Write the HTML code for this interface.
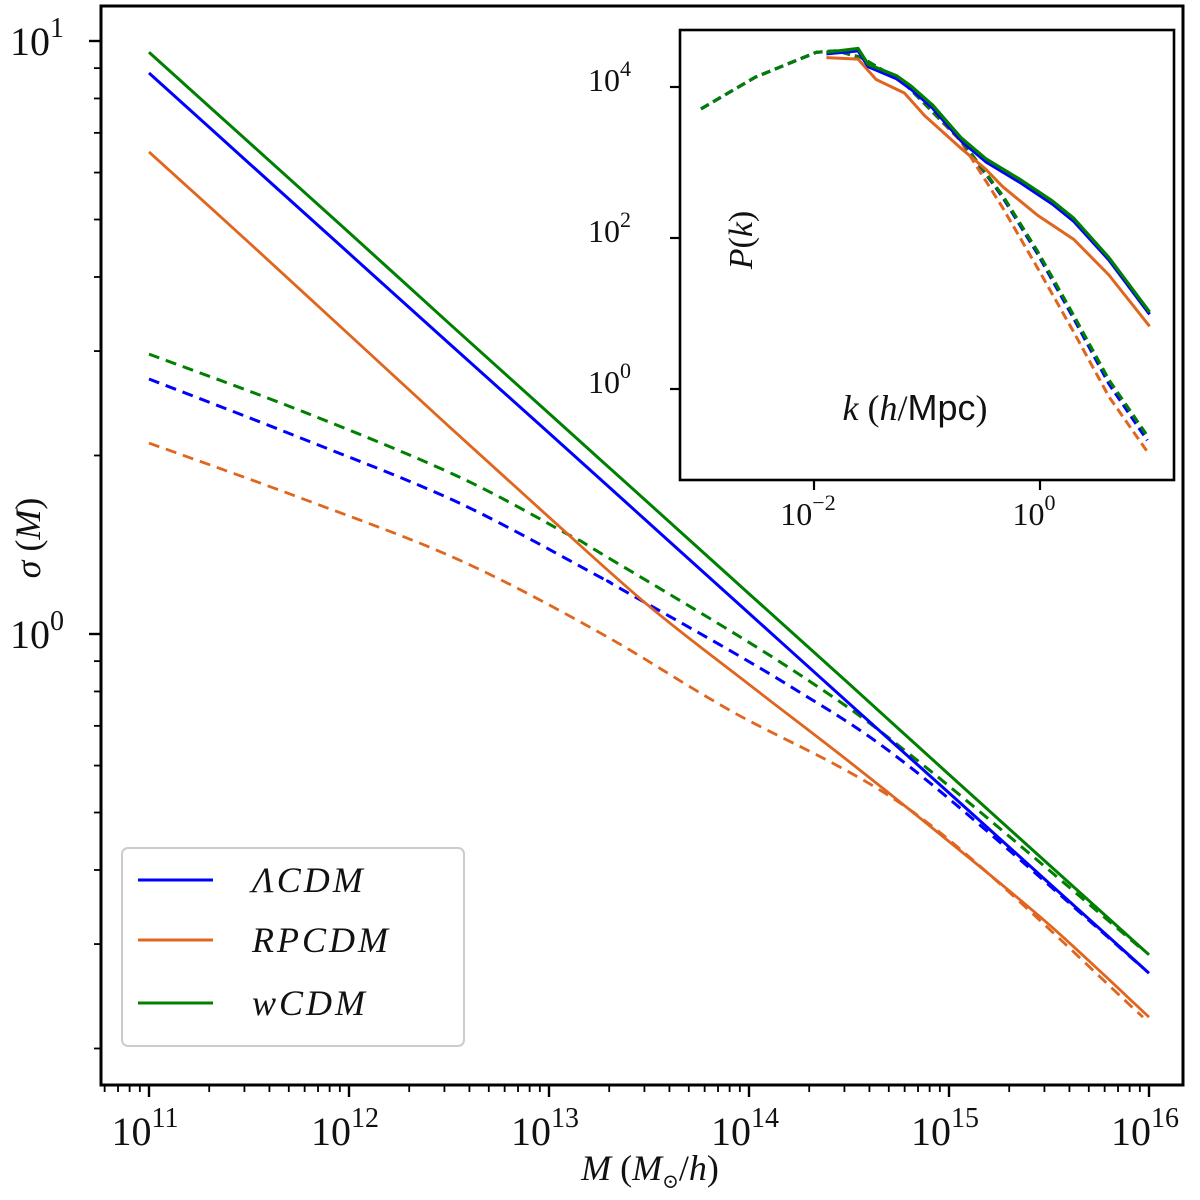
<!DOCTYPE html>
<html><head><meta charset="utf-8">
<style>
html,body{margin:0;padding:0;background:#fff;}
svg{display:block;}
text{font-family:"Liberation Serif","DejaVu Serif",serif;fill:#111;}
</style></head>
<body>
<svg id="chart" width="1200" height="1200" viewBox="0 0 1200 1200">
<g id="main"></g>
<g id="legend"></g>
<g id="inset"></g>
</svg>
<script>
// ===== main plot data (log10 M, log10 sigma) =====
const mGrid = [11, 11.5, 12, 12.5, 13, 13.5, 14, 14.5, 15, 15.5, 16];
const lcdmSolid = [0.946, 0.794, 0.642, 0.490, 0.339, 0.187, 0.035, -0.117, -0.268, -0.42, -0.572];
const wcdmSolid = [0.981, 0.829, 0.677, 0.524, 0.372, 0.220, 0.068, -0.084, -0.237, -0.389, -0.541];
const rpcdmSolid = [0.813, 0.66, 0.505, 0.35, 0.197, 0.047, -0.085, -0.215, -0.35, -0.49, -0.646];
const lcdmDashX = [11, 11.785, 12.55, 13.255, 13.36, 14.21, 14.86, 15.97];
const lcdmDash = [0.430, 0.327, 0.221, 0.096, 0.076, -0.089, -0.239, -0.563];
const wcdmDashX = [11, 11.785, 12.55, 13.1, 13.255, 14.21, 14.86, 15.97];
const wcdmDash = [0.472, 0.373, 0.265, 0.167, 0.137, -0.059, -0.218, -0.533];
const rpcdmDashX = [11, 11.785, 12.55, 13.255, 13.89, 14.86, 15.97];
const rpcdmDash = [0.322, 0.226, 0.125, 0.002, -0.126, -0.31, -0.646];
const xTickExp = ["11", "12", "13", "14", "15", "16"];
const yTickExp = ["1", "0"];

// ===== inset data (log10 k, log10 P) =====
const kDashBG = [-3, -2.52, -1.98, -1.8, -1.58, -1.2, -0.7, -0.33, -0.02, 0.3, 0.61, 0.95];
const lcdmPkLin = [3.71, 4.13, 4.46, 4.48, 4.39, 4.05, 3.3, 2.54, 1.79, 0.93, 0.07, -0.68];
const wcdmPkLin = [3.71, 4.13, 4.46, 4.48, 4.39, 4.05, 3.3, 2.56, 1.82, 0.97, 0.12, -0.62];
const kDashO = [-3, -2.52, -1.98, -1.8, -1.58, -1.2, -0.7, -0.33, -0.02, 0.3, 0.61, 0.95];
const rpcdmPkLin = [3.71, 4.13, 4.46, 4.48, 4.39, 4.05, 3.28, 2.4, 1.6, 0.75, -0.1, -0.83];
const kSolidG = [-1.89, -1.61, -1.52, -1.27, -1.14, -0.95, -0.7, -0.48, -0.17, 0.11, 0.3, 0.61, 0.97];
const wcdmPk = [4.46, 4.51, 4.30, 4.15, 4.01, 3.76, 3.33, 3.05, 2.77, 2.49, 2.26, 1.74, 1.02];
const lcdmPk = [4.44, 4.48, 4.27, 4.11, 3.97, 3.72, 3.29, 3.01, 2.73, 2.45, 2.22, 1.71, 0.99];
const kSolidO = [-1.89, -1.61, -1.45, -1.2, -1.02, -0.7, -0.48, -0.33, -0.02, 0.3, 0.61, 0.97];
const rpcdmPk = [4.39, 4.37, 4.1, 3.92, 3.62, 3.19, 2.91, 2.68, 2.30, 1.98, 1.51, 0.83];
const insetXTickExp = ["-2", "0"];
const insetYTickExp = ["4", "2", "0"];

const NS = "http://www.w3.org/2000/svg";
const BLUE = "#0000ff", ORANGE = "#e0661f", GREEN = "#008000";
function mk(tag, attrs, parent) { const e = document.createElementNS(NS, tag); for (const k in attrs) e.setAttribute(k, attrs[k]); parent.appendChild(e); return e; }

// main axes
const L = 101, T = 6, R = 1183, B = 1085;
const xs = v => 149 + 200 * (v - 11);
const ys = v => 634 - 593 * v;
const main = document.getElementById('main');

function smoothPath(pts) {
  let d = 'M' + pts[0][0].toFixed(1) + ' ' + pts[0][1].toFixed(1);
  for (let i = 0; i < pts.length - 1; i++) {
    const p0 = pts[Math.max(0, i - 1)], p1 = pts[i], p2 = pts[i + 1], p3 = pts[Math.min(pts.length - 1, i + 2)];
    const c1x = p1[0] + (p2[0] - p0[0]) / 6, c1y = p1[1] + (p2[1] - p0[1]) / 6;
    const c2x = p2[0] - (p3[0] - p1[0]) / 6, c2y = p2[1] - (p3[1] - p1[1]) / 6;
    d += ' C' + c1x.toFixed(1) + ' ' + c1y.toFixed(1) + ' ' + c2x.toFixed(1) + ' ' + c2y.toFixed(1) + ' ' + p2[0].toFixed(1) + ' ' + p2[1].toFixed(1);
  }
  return d;
}
function drawLine(g, xa, ya, fx, fy, color, dashed, name, w, smooth) {
  const pts = xa.map((x, i) => [fx(x), fy(ya[i])]);
  const d = smooth ? smoothPath(pts) : pts.map((p, i) => (i ? 'L' : 'M') + p[0].toFixed(1) + ' ' + p[1].toFixed(1)).join(' ');
  const p = mk('path', { d: d, fill: 'none', stroke: color, 'stroke-width': w, 'stroke-linejoin': 'round' }, g);
  if (dashed) p.setAttribute('stroke-dasharray', dashed);
  
  
}
drawLine(main, rpcdmDashX, rpcdmDash, xs, ys, ORANGE, '11 7', 'rpcdm-linear-line', 2.8, true);
drawLine(main, lcdmDashX, lcdmDash, xs, ys, BLUE, '11 7', 'lcdm-linear-line', 3, true);
drawLine(main, wcdmDashX, wcdmDash, xs, ys, GREEN, '11 7', 'wcdm-linear-line', 3, true);
drawLine(main, mGrid, rpcdmSolid, xs, ys, ORANGE, null, 'rpcdm-line', 2.8, true);
drawLine(main, mGrid, lcdmSolid, xs, ys, BLUE, null, 'lcdm-line', 3, true);
drawLine(main, mGrid, wcdmSolid, xs, ys, GREEN, null, 'wcdm-line', 3, true);

const frame = mk('rect', { x: L, y: T, width: R - L, height: B - T, fill: 'none', stroke: '#000', 'stroke-width': 3 }, main);
 

// x ticks
for (let e = 10; e <= 16; e++) {
  for (let m = 1; m <= 9; m++) {
    const v = e + Math.log10(m); const x = xs(v);
    if (x < L || x > R) continue;
    const len = m === 1 ? 12 : 7;
    const t = mk('line', { x1: x, y1: B, x2: x, y2: B + len, stroke: '#000', 'stroke-width': m === 1 ? 2.4 : 1.8 }, main);
     
  }
}
xTickExp.forEach(ex => {
  const x = xs(parseFloat(ex));
  const t = mk('text', { x: x - 4, y: 1145, 'font-size': 40, 'text-anchor': 'middle' }, main);
   
  t.textContent = '10';
  const s = mk('tspan', { dy: -18, 'font-size': 28 }, t); s.textContent = ex;
});
// y ticks
for (let e = -1; e <= 1; e++) {
  for (let m = 1; m <= 9; m++) {
    const v = e + Math.log10(m); const y = ys(v);
    if (y < T || y > B) continue;
    const len = m === 1 ? 12 : 7;
    const t = mk('line', { x1: L, y1: y, x2: L - len, y2: y, stroke: '#000', 'stroke-width': m === 1 ? 2.4 : 1.8 }, main);
     
  }
}
yTickExp.forEach(ex => {
  const y = ys(parseFloat(ex));
  const t = mk('text', { x: 10, y: y + 14, 'font-size': 40 }, main);
   
  t.textContent = '10';
  const s = mk('tspan', { dy: -18, 'font-size': 28 }, t); s.textContent = ex;
});
const xt = mk('text', { x: 650, y: 1180, 'font-size': 36, 'text-anchor': 'middle' }, main);
 
xt.innerHTML = '<tspan font-style="italic">M</tspan> (<tspan font-style="italic">M</tspan><tspan font-size="20" dy="8">⊙</tspan><tspan dy="-8">/</tspan><tspan font-style="italic">h</tspan>)';
const yt = mk('text', { x: 0, y: 0, 'font-size': 36, 'text-anchor': 'middle', transform: 'translate(40,538) rotate(-90)' }, main);
 
yt.innerHTML = '<tspan font-style="italic">σ</tspan> (<tspan font-style="italic">M</tspan>)';

// legend
const lg = document.getElementById('legend');
mk('rect', { x: 122, y: 848, width: 342, height: 198, rx: 6, fill: '#fff', 'fill-opacity': 0.85, stroke: '#ccc', 'stroke-width': 2 }, lg);
[['ΛCDM', BLUE, 880, 'legend-lcdm'], ['RPCDM', ORANGE, 940, 'legend-rpcdm'], ['wCDM', GREEN, 1003, 'legend-wcdm']].forEach(en => {
  const g = mk('g', {}, lg);
   
  mk('line', { x1: 138, y1: en[2], x2: 213, y2: en[2], stroke: en[1], 'stroke-width': 3 }, g);
  const t = mk('text', { x: 252, y: en[2] + 12, 'font-size': 36, 'font-style': 'italic', 'letter-spacing': 3 }, g);
  t.textContent = en[0];
});

// inset
const IL = 680, IT = 30, IR = 1174, IB = 480;
const ixs = v => 1040 + 113 * v;
const iys = v => 389 - 75.5 * v;
const ins = document.getElementById('inset');
const bg = mk('rect', { x: IL, y: IT, width: IR - IL, height: IB - IT, fill: '#fff' }, ins);
 
drawLine(ins, kDashO, rpcdmPkLin, ixs, iys, ORANGE, '9 5', 'inset-rpcdm-linear', 3, false);
drawLine(ins, kDashBG, lcdmPkLin, ixs, iys, BLUE, '9 5', 'inset-lcdm-linear', 3.2, false);
drawLine(ins, kDashBG, wcdmPkLin, ixs, iys, GREEN, '9 5', 'inset-wcdm-linear', 3.2, false);
drawLine(ins, kSolidO, rpcdmPk, ixs, iys, ORANGE, null, 'inset-rpcdm', 3, false);
drawLine(ins, kSolidG, lcdmPk, ixs, iys, BLUE, null, 'inset-lcdm', 3.2, false);
drawLine(ins, kSolidG, wcdmPk, ixs, iys, GREEN, null, 'inset-wcdm', 3.2, false);
const ifr = mk('rect', { x: IL, y: IT, width: IR - IL, height: IB - IT, fill: 'none', stroke: '#000', 'stroke-width': 2.6 }, ins);
 
insetXTickExp.forEach(ex => {
  const x = ixs(parseFloat(ex));
  const tk = mk('line', { x1: x, y1: IB, x2: x, y2: IB + 10, stroke: '#000', 'stroke-width': 2.2 }, ins);
   
  const t = mk('text', { x: x - 6, y: 525, 'font-size': 32, 'text-anchor': 'middle' }, ins);
   
  t.textContent = '10';
  const s = mk('tspan', { dy: -15, 'font-size': 22 }, t); s.textContent = ex.replace('-', '−');
});
insetYTickExp.forEach(ex => {
  const y = iys(parseFloat(ex));
  const tk = mk('line', { x1: IL, y1: y, x2: IL - 10, y2: y, stroke: '#000', 'stroke-width': 2.2 }, ins);
   
  const t = mk('text', { x: 588, y: y + 4, 'font-size': 32 }, ins);
   
  t.textContent = '10';
  const s = mk('tspan', { dy: -15, 'font-size': 22 }, t); s.textContent = ex;
});
const ix = mk('text', { x: 915, y: 420, 'font-size': 36, 'text-anchor': 'middle' }, ins);
 
ix.innerHTML = '<tspan font-style="italic">k</tspan> (<tspan font-style="italic">h</tspan>/<tspan font-family="Liberation Sans, sans-serif">Mpc</tspan>)';
const iy = mk('text', { x: 0, y: 0, 'font-size': 34, 'text-anchor': 'middle', transform: 'translate(752,240) rotate(-90)' }, ins);
 
iy.innerHTML = '<tspan font-style="italic">P</tspan>(<tspan font-style="italic">k</tspan>)';
</script>
</body></html>
